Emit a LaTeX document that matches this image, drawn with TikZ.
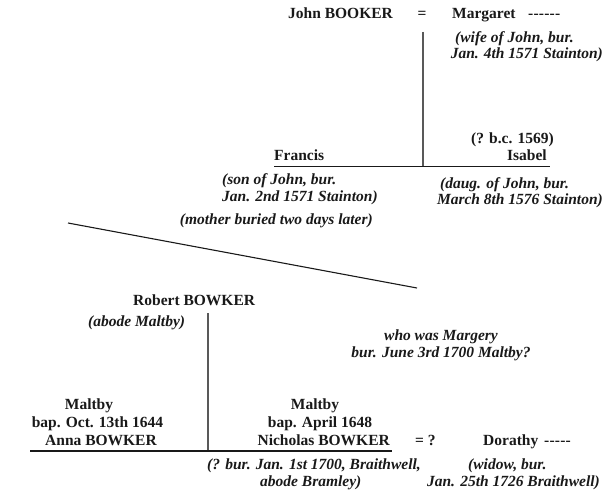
\documentclass[tikz,border=0pt]{standalone}
\usepackage{fontspec}
\setmainfont{Liberation Serif}
\newcommand{\hy}[1]{\foreach \k in {1,...,#1}{-\kern0.2pt}}
\begin{document}
\begin{tikzpicture}[x=1pt,y=-1pt,
  lbl/.style={font=\bfseries\fontsize{15.5}{17}\selectfont, inner sep=0pt, text=black!90},
  note/.style={font=\bfseries\itshape\fontsize{15.5}{16}\selectfont, inner sep=0pt, text=black!90},
  vline/.style={draw=black!65, line width=1.3pt},
  hline/.style={draw=black!90, line width=1.3pt},
  dline/.style={draw=black!90, line width=1.1pt}]
\useasboundingbox (0,0) rectangle (604,495);
% top couple
\node[lbl, anchor=base west] (john) at (288,19) {John BOOKER};
\node[lbl, anchor=base] (eq1) at (422,19) {=};
\node[lbl, anchor=base west] (marg) at (452,19) {Margaret};
\node[lbl, anchor=base west] (dash1) at (528,19) {\hy{6}};
\node[note, anchor=base west] (wife1) at (455,42) {(wife of John, bur.};
\node[note, anchor=base east] (wife2) at (603,58) {Jan. 4th 1571 Stainton)};
\coordinate (c1top) at (423,32);
\coordinate (c1bot) at (423,166.5);
\draw[vline] (c1top) -- (c1bot);
% children
\coordinate (h1l) at (274,166.5);
\coordinate (h1r) at (550,166.5);
\draw[hline] (h1l) -- (h1r);
\node[lbl, anchor=base west] (francis) at (274,160) {Francis};
\node[lbl, anchor=base east] (bc) at (554,143) {(? b.c. 1569)};
\node[lbl, anchor=base east] (isabel) at (547,160) {Isabel};
\node[note, anchor=base west] (son1) at (222,184) {(son of John, bur.};
\node[note, anchor=base west] (son2) at (222,201) {Jan. 2nd 1571 Stainton)};
\node[note, anchor=base east] (mother) at (373,224) {(mother buried two days later)};
\node[note, anchor=base west] (daug1) at (440,188) {(daug. of John, bur.};
\node[note, anchor=base east] (daug2) at (603,204) {March 8th 1576 Stainton)};
% diagonal break
\coordinate (d1) at (68,223);
\coordinate (d2) at (417,288);
\draw[dline] (d1) -- (d2);
% Robert
\node[lbl, anchor=base west] (robert) at (133,305) {Robert BOWKER};
\node[note, anchor=base west] (abode) at (88,326) {(abode Maltby)};
\node[note, anchor=base] (who1) at (441,340) {who was Margery};
\node[note, anchor=base] (who2) at (441,357) {bur. June 3rd 1700 Maltby?};
\coordinate (c2top) at (208,313);
\coordinate (c2bot) at (208,451);
\draw[vline] (c2top) -- (c2bot);
\coordinate (h2l) at (30,451);
\coordinate (h2r) at (392,451);
\draw[hline] (h2l) -- (h2r);
% Anna
\node[lbl, anchor=base] (m1) at (89,409) {Maltby};
\node[lbl, anchor=base] (bap1) at (97.5,427) {bap. Oct. 13th 1644};
\node[lbl, anchor=base] (anna) at (101,445) {Anna BOWKER};
% Nicholas
\node[lbl, anchor=base] (m2) at (315,409) {Maltby};
\node[lbl, anchor=base] (bap2) at (320,427) {bap. April 1648};
\node[lbl, anchor=base east] (nich) at (390,445) {Nicholas BOWKER};
\node[lbl, anchor=base west] (eq2) at (415,445) {= ?};
\node[lbl, anchor=base west] (dor) at (483,445) {Dorathy};
\node[lbl, anchor=base west] (dash2) at (544,445) {\hy{5}};
\node[note, anchor=base west] (nb1) at (207,469) {(? bur. Jan. 1st 1700, Braithwell,};
\node[note, anchor=base west] (nb2) at (260,486) {abode Bramley)};
\node[note, anchor=base west] (wd1) at (468,469) {(widow, bur.};
\node[note, anchor=base east] (wd2) at (600,486) {Jan. 25th 1726 Braithwell)};
\end{tikzpicture}
\end{document}
